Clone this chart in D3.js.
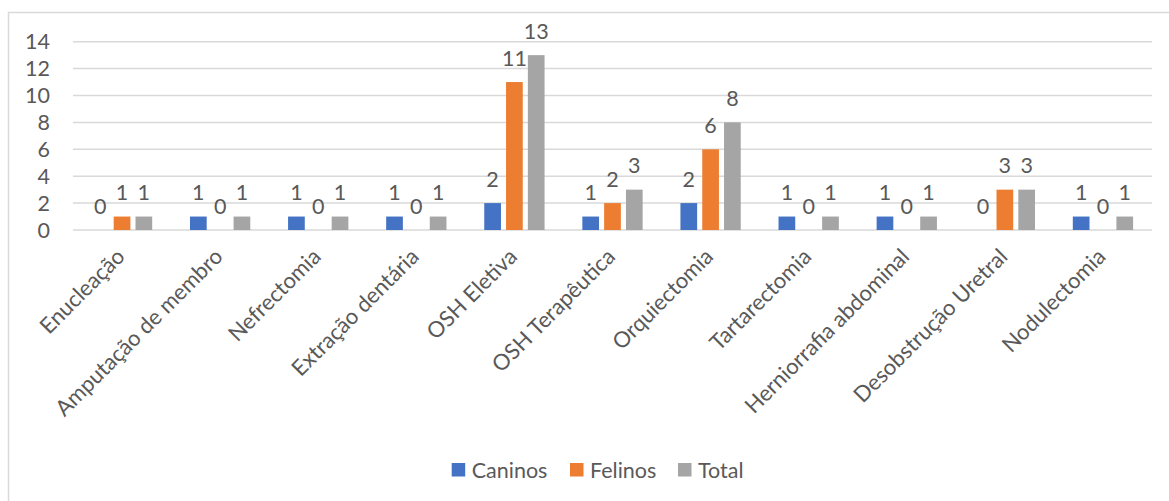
<!DOCTYPE html>
<html><head><meta charset="utf-8">
<script src="https://cdn.jsdelivr.net/npm/d3@7"></script>
<style>
body{margin:0;background:#fff;}
svg{display:block;font-family:Lato,"Open Sans",sans-serif;}
</style></head>
<body><svg id="c" width="1169" height="501"></svg>
<script>
const categories = ["Enucleação","Amputação de membro","Nefrectomia","Extração dentária","OSH Eletiva","OSH Terapêutica","Orquiectomia","Tartarectomia","Herniorrafia abdominal","Desobstrução Uretral","Nodulectomia"];
const caninos = [0,1,1,1,2,1,2,1,1,0,1];
const felinos = [1,0,0,0,11,2,6,0,0,3,0];
const total   = [1,1,1,1,13,3,8,1,1,3,1];
const seriesNames = ["Caninos","Felinos","Total"];
const yTicks = [0,2,4,6,8,10,12,14];
const colors = ["#4472C4","#ED7D31","#A5A5A5"];
const seriesVals = [caninos, felinos, total];

const svg = d3.select("#c");
const textColor = "#595959";
const fs = 21.5;

// chart border
svg.append("rect").attr("x",8.5).attr("y",12.5).attr("width",1200).attr("height",600)
  .attr("fill","none").attr("stroke","#D9D9D9").attr("stroke-width",1.5);

const x = d3.scaleBand().domain(categories).range([73,1152]).padding(0);
const y = d3.scaleLinear().domain([0,14]).range([230,41.7]);

// gridlines
svg.append("g").selectAll("line").data(yTicks).join("line")
  .attr("x1",73).attr("x2",1152).attr("y1",d=>y(d)).attr("y2",d=>y(d))
  .attr("stroke","#D9D9D9").attr("stroke-width",1.5);

// y tick labels
svg.append("g").selectAll("text").data(yTicks).join("text")
  .attr("x",50).attr("y",d=>y(d)).attr("dy","0.36em")
  .attr("text-anchor","end").attr("fill",textColor).attr("font-size",fs)
  .text(d=>d);

const barW = 16.7, stride = 21.8;
const data = [];
categories.forEach((c,i)=>{
  seriesVals.forEach((vals,s)=>{
    data.push({c, s, v: vals[i], cx: x(c)+x.bandwidth()/2 + (s-1)*stride});
  });
});

svg.append("g").selectAll("rect").data(data.filter(d=>d.v>0)).join("rect")
  .attr("x",d=>d.cx-barW/2).attr("width",barW)
  .attr("y",d=>y(d.v)).attr("height",d=>y(0)-y(d.v))
  .attr("fill",d=>colors[d.s]);

// data labels
svg.append("g").selectAll("text").data(data).join("text")
  .attr("x",d=>d.cx).attr("y",d=>y(d.v)-24).attr("dy","0.36em")
  .attr("text-anchor","middle").attr("fill",textColor).attr("font-size",fs)
  .text(d=>d.v);

// category labels
svg.append("g").selectAll("text").data(categories).join("text")
  .attr("transform",d=>`translate(${x(d)+x.bandwidth()/2+4},258) rotate(-45)`)
  .attr("text-anchor","end").attr("fill",textColor).attr("font-size",22)
  .text(d=>d);

// legend
const legX = [451.7, 570, 678];
const lg = svg.append("g").selectAll("g").data(seriesNames).join("g")
  .attr("transform",(d,i)=>`translate(${legX[i]},463)`);
lg.append("rect").attr("width",13.5).attr("height",13.5).attr("fill",(d,i)=>colors[i]);
lg.append("text").attr("x",20).attr("y",7).attr("dy","0.36em")
  .attr("fill",textColor).attr("font-size",fs).text(d=>d);
</script></body></html>
